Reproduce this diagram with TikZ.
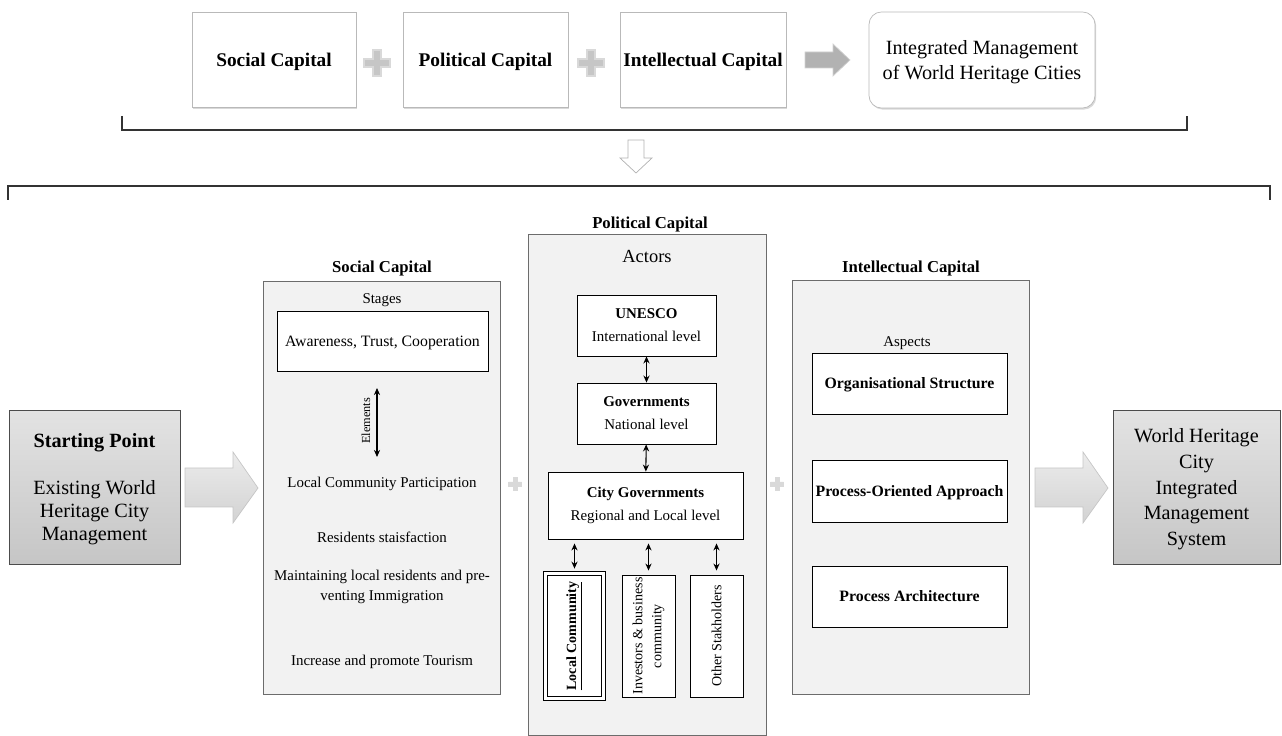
\documentclass[tikz,border=0pt]{standalone}
\usepackage{fontspec}
\setmainfont{Liberation Serif}
\usetikzlibrary{arrows.meta,shadows}

\begin{document}
\begin{tikzpicture}[x=0.02cm, y=-0.02cm,
    topbox/.style={draw=gray!55, fill=white, inner sep=0pt, align=center, text depth=0pt,
        minimum height=1.9cm, font=\bfseries\fontsize{11}{13}\selectfont,
        drop shadow={opacity=0.3, shadow xshift=0.7pt, shadow yshift=-0.9pt}},
    panel/.style={draw=gray!85!black, fill=gray!10, inner sep=0pt},
    box/.style={draw=black, fill=white, inner sep=0pt, align=center, line width=0.5pt,
        font=\fontsize{8.5}{13}\selectfont},
    aspectbox/.style={box, minimum width=3.9cm, minimum height=1.22cm, text depth=0pt,
        font=\bfseries\fontsize{9}{11}\selectfont},
    endbox/.style={draw=gray!60!black, top color=gray!22, bottom color=gray!45, text depth=0pt,
        inner sep=0pt, align=center, minimum height=3.08cm},
    blockarrow/.style={draw=gray!45, top color=gray!15, middle color=white, bottom color=gray!35},
    link/.style={{Stealth[length=4pt,width=3.5pt]}-{Stealth[length=4pt,width=3.5pt]}, line width=0.6pt},
    bracket/.style={draw=gray!40!black, line width=0.6pt},
    title/.style={font=\bfseries\fontsize{9.5}{11}\selectfont},
    small/.style={font=\fontsize{8.5}{13}\selectfont, align=center},
    vtext/.style={rotate=90, align=center, font=\fontsize{8}{10.8}\selectfont}
]

    % Fix the page to the size of the reference
    \useasboundingbox (0,0) rectangle (1282,736);

    % Draw the top row: the three capitals and the result
    \node[topbox, minimum width=3.28cm] (tsoc) at (274,59.5) {Social Capital};
    \node[topbox, minimum width=3.3cm] (tpol) at (485.5,59.5) {Political Capital};
    \node[topbox, minimum width=3.32cm] (tint) at (703,59.5) {Intellectual Capital};
    \node[topbox, rounded corners=7pt, minimum width=4.52cm, minimum height=1.92cm,
        font=\fontsize{11.5}{14}\selectfont] (tres) at (982,60) {Integrated Management\\of World Heritage Cities};

    % Draw the grey arrow towards the result
    \draw[fill=gray!60, draw=gray!35] (805,52) -- (833,52) -- (833,44) -- (850,60) -- (833,76) -- (833,68) -- (805,68) -- cycle;

    % Draw the plus signs between the boxes
    \foreach \cx/\cy/\s/\c in {377/63/1/45, 591/63/1/45, 515/484/0.5/30, 777/484/0.5/30}
        \draw[draw=gray!30, line width=\s pt, fill=gray!\c] (\cx,\cy) ++(-4*\s,-13*\s) -- ++(8*\s,0) -- ++(0,9*\s) -- ++(9*\s,0)
            -- ++(0,8*\s) -- ++(-9*\s,0) -- ++(0,9*\s) -- ++(-8*\s,0) -- ++(0,-9*\s) -- ++(-9*\s,0)
            -- ++(0,-8*\s) -- ++(9*\s,0) -- cycle;

    % Draw the two brackets and the hollow arrow between them
    \draw[bracket] (122,116) -- (122,130) -- (1187,130) -- (1187,116);
    \draw[draw=gray!60, fill=white] (628,140) -- (644,140) -- (644,158) -- (652,158) -- (636,173) -- (620,158) -- (628,158) -- cycle;
    \draw[bracket] (8,200) -- (8,186) -- (1270,186) -- (1270,200);

    % Draw the starting point and the end system
    \node[endbox, minimum width=3.42cm, font=\fontsize{11.5}{13}\selectfont] (start) at (94.5,487)
        {\textbf{Starting Point}\\[14pt]Existing World\\Heritage City\\Management};
    \node[endbox, minimum width=3.34cm, font=\fontsize{11.5}{14.7}\selectfont] (system) at (1196.5,487)
        {World Heritage\\City\\Integrated\\Management\\System};

    % Draw the two light block arrows
    \draw[blockarrow] (185,468) -- (233,468) -- (233,452) -- (258,488) -- (233,523) -- (233,507) -- (185,507) -- cycle;
    \draw[blockarrow] (1035,468) -- (1083,468) -- (1083,452) -- (1108,488) -- (1083,523) -- (1083,507) -- (1035,507) -- cycle;

    % Social capital panel
    \node[panel, minimum width=4.74cm, minimum height=8.26cm] (social) at (381.5,487.5) {};
    \node[title] (soctitle) at (382,268) {Social Capital};
    \node[small] (stages) at (382,300) {Stages};
    \node[box, minimum width=4.22cm, minimum height=1.2cm, text depth=0pt, font=\fontsize{9}{11}\selectfont] (aware) at (382.5,341)
        {Awareness, Trust, Cooperation};
    \coordinate (eltop) at (377,388);
    \coordinate (elbot) at (377,457);
    \draw[link, line width=0.8pt] (eltop) -- (elbot);
    \node[rotate=90, font=\fontsize{7}{8}\selectfont] (elem) at (366,421) {Elements};
    \node[small] (partic) at (382,484) {Local Community Participation};
    \node[small] (satisf) at (382,537) {Residents staisfaction};
    \node[small, font=\fontsize{8.5}{11.3}\selectfont] (maint) at (382,587) {Maintaining local residents and pre-\\venting Immigration};
    \node[small] (tour) at (382,662) {Increase and promote Tourism};

    % Political capital panel
    \node[panel, minimum width=4.76cm, minimum height=10.02cm] (political) at (647,484.5) {};
    \node[title] (poltitle) at (650,224) {Political Capital};
    \node[font=\fontsize{10.5}{12}\selectfont] (actors) at (647,257) {Actors};
    \node[box, minimum width=2.78cm, minimum height=1.22cm] (unesco) at (646.5,325.5) {\textbf{UNESCO}\\International level};
    \node[box, minimum width=2.78cm, minimum height=1.22cm] (gov) at (646.5,413.5) {\textbf{Governments}\\National level};
    \node[box, minimum width=3.9cm, minimum height=1.34cm] (city) at (645.5,505.5) {\textbf{City Governments}\\Regional and Local level};
    \node[box, double, double distance=2.2pt, line width=0.6pt, minimum width=1.16cm, minimum height=2.5cm] (lc) at (574.5,636) {};
    \node[box, minimum width=1.06cm, minimum height=2.44cm] (inv) at (648.5,636) {};
    \node[box, minimum width=1.06cm, minimum height=2.44cm] (oth) at (716.5,636) {};
    \node[vtext, font=\bfseries\fontsize{8}{10}\selectfont] (lctext) at (lc.center) {\underline{Local Community}};
    \node[vtext] (invtext) at (inv.center) {Investors \& business\\community};
    \node[vtext] (othtext) at (oth.center) {Other Stakholders};

    % Draw the links between the actors
    \draw[link] (unesco) -- (gov);
    \draw[link] (gov) -- (city);
    \draw[link, shorten <=2.3pt, shorten >=2.5pt] (city.south -| lc) -- (lc.north);
    \draw[link, shorten <=2.3pt, shorten >=2.3pt] (city.south -| inv) -- (inv.north);
    \draw[link, shorten <=2.3pt, shorten >=2.3pt] (city.south -| oth) -- (oth.north);

    % Intellectual capital panel
    \node[panel, minimum width=4.74cm, minimum height=8.28cm] (intellectual) at (910.5,487) {};
    \node[title] (inttitle) at (911,268) {Intellectual Capital};
    \node[small] (aspects) at (907,343) {Aspects};
    \node[aspectbox] (org) at (909.5,383.5) {Organisational Structure};
    \node[aspectbox, minimum height=1.24cm] (proc) at (909.5,491) {Process-Oriented Approach};
    \node[aspectbox] (arch) at (909.5,596.5) {Process Architecture};

\end{tikzpicture}
\end{document}
